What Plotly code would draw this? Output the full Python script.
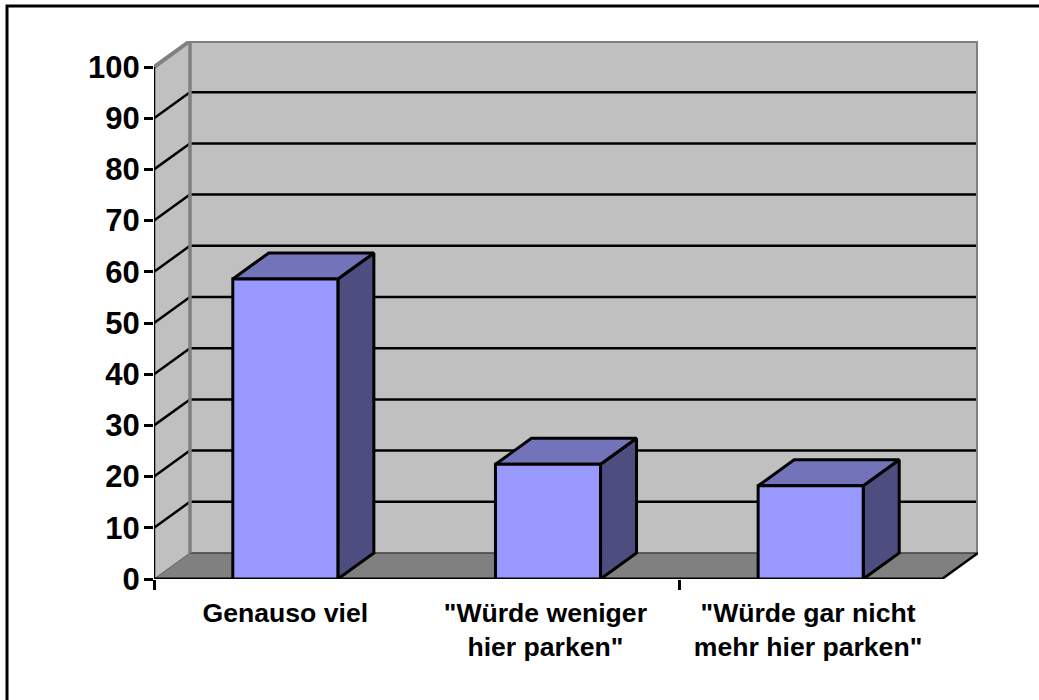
import plotly.graph_objects as go

categories = ['Genauso viel', '"Würde weniger<br>hier parken"', '"Würde gar nicht<br>mehr hier parken"']
label_positions = [0.5, 1.49, 2.49]
values = [58.6, 22.4, 18.2]
y_ticks = [0, 10, 20, 30, 40, 50, 60, 70, 80, 90, 100]
x_tick_marks = [0, 2]

BLACK = "#000000"
WALL = "#C0C0C0"
FLOOR = "#808080"
EDGE = "#808080"
FRONT = "#9999FF"
TOP = "#7373B9"
SIDE = "#4D4D80"

# oblique depth of the 3D box, in axis units
DX = 0.137
DY = 5.08
BAR_W = 0.4
N = len(categories)

# pixel frame of the front plane
L, R, T, B = 154, 978, 41, 579


def poly(xs, ys, fill=None, line=BLACK, width=3):
    return go.Scatter(
        x=xs, y=ys, mode="lines", cliponaxis=False, hoverinfo="skip", showlegend=False,
        fill="toself" if fill else None, fillcolor=fill,
        line=dict(color=line, width=width, simplify=False),
    )


fig = go.Figure()
top = y_ticks[-1]
# walls and floor
fig.add_trace(poly([0, DX, DX, 0, 0], [0, DY, top + DY, top, 0], WALL, WALL, 0.1))
fig.add_trace(poly([DX, N + DX, N + DX, DX, DX], [DY, DY, top + DY, top + DY, DY], WALL, WALL, 0.1))
fig.add_trace(poly([0, N, N + DX, DX, 0], [0, 0, DY, DY, 0], FLOOR, FLOOR, 0.1))
# grid lines
for v in y_ticks[1:-1]:
    fig.add_trace(poly([0, DX, N + DX], [v, v + DY, v + DY], None, BLACK, 2.5))
# wall outlines
fig.add_trace(poly([DX, N + DX], [DY, DY], None, "#404040", 1.5))
fig.add_trace(poly([0, DX], [0, DY], None, "#606060", 1))
fig.add_trace(poly([0, DX, N + DX, N + DX], [top, top + DY, top + DY, DY], None, EDGE, 4))
fig.add_trace(poly([DX, DX], [DY, top + DY], None, EDGE, 3.5))
# floor front and right edges, value axis line
fig.add_trace(poly([N, N + DX], [0, DY], None, BLACK, 2.5))
fig.add_trace(poly([0, N], [0, 0], None, BLACK, 3))
fig.add_trace(poly([0, 0], [0, top], None, BLACK, 2.5))
# bars
for i, v in enumerate(values):
    x0 = i + 0.5 - BAR_W / 2
    x1 = i + 0.5 + BAR_W / 2
    fig.add_trace(poly([x1, x1 + DX, x1 + DX, x1, x1], [0, DY, v + DY, v, 0], SIDE))
    fig.add_trace(poly([x0, x1, x1 + DX, x0 + DX, x0], [v, v, v + DY, v + DY, v], TOP))
    fig.add_trace(poly([x0, x1, x1, x0, x0], [0, 0, v, v, 0], FRONT))

W, H = 1039, 700
PW, PH = R - L, B - T


def px(x):
    return (x - L) / PW


def py(y):
    return (B - y) / PH


fig.update_layout(
    width=W, height=H,
    margin=dict(l=L, r=W - R, t=T, b=H - B, pad=0),
    paper_bgcolor="white", plot_bgcolor="white",
    showlegend=False,
    font=dict(family="Liberation Sans, Arial, sans-serif", color=BLACK),
    xaxis=dict(
        range=[0, N + DX], showgrid=False, zeroline=False, showline=False,
        tickmode="array", tickvals=label_positions, ticktext=categories,
        ticks="", ticklabelstandoff=15,
        tickfont=dict(size=26.6, family="Liberation Sans, Arial, sans-serif", weight="bold"),
        minor=dict(tickmode="array", tickvals=x_tick_marks, ticks="outside", ticklen=10,
                   tickwidth=2.5, tickcolor=BLACK, showgrid=False),
    ),
    yaxis=dict(
        range=[0, top + DY], showgrid=False, zeroline=False, showline=False,
        tickmode="array", tickvals=y_ticks, ticktext=[str(v) for v in y_ticks],
        ticks="outside", ticklen=9, tickwidth=2.5, tickcolor=BLACK, ticklabelstandoff=-2,
        tickfont=dict(size=31, family="Liberation Sans, Arial, sans-serif", weight="bold"),
    ),
    shapes=[dict(type="rect", xref="paper", yref="paper",
                 x0=px(7), x1=px(1050), y0=py(6), y1=py(710),
                 line=dict(color=BLACK, width=3), fillcolor="rgba(0,0,0,0)", layer="below")],
)

fig.write_html("out.html", config={"displayModeBar": False},
               post_script="document.body.style.margin='0';document.body.style.overflow='hidden';window.dispatchEvent(new Event('resize'));")
